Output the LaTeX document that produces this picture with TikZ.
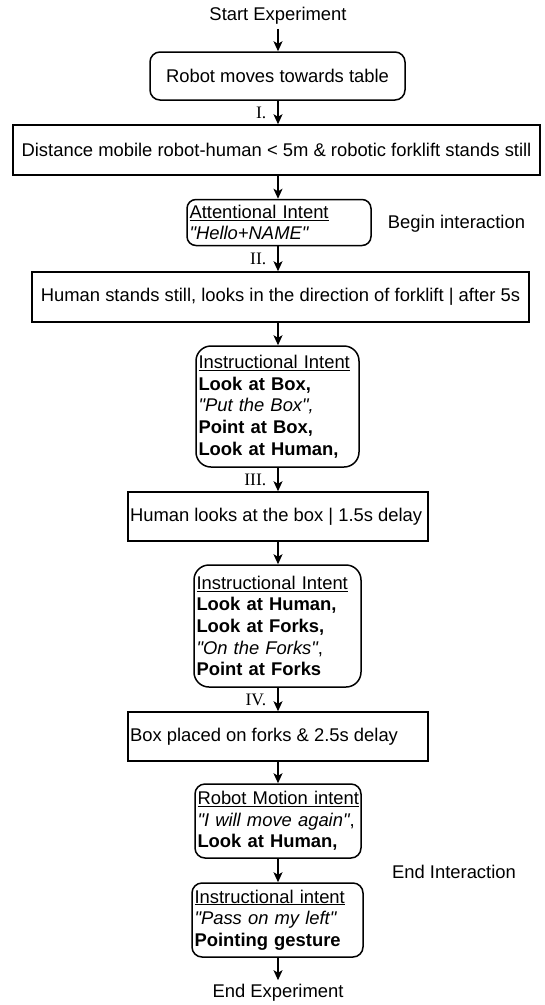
\documentclass[tikz,border=0pt]{standalone}
\usepackage{fontspec}
\setmainfont{Liberation Sans}
\newfontfamily\romanlbl{Liberation Serif}
\usetikzlibrary{arrows.meta}
\newcommand{\dq}{\XeTeXglyph\XeTeXcharglyph"22\relax}
\begin{document}
\begin{tikzpicture}[x=1pt,y=-1pt,
  every node/.style={font=\fontsize{18.4}{21.7}\selectfont},
  flow/.style={line width=1.5pt, -{Stealth[length=10pt,width=9pt,inset=2.5pt]}},
  base/.style={draw, line width=1.5pt, inner sep=0pt},
  intentbox/.style={base, rounded corners=#1, inner xsep=2.5pt, align=left},
  plain/.style={inner sep=4pt},
  lbl/.style={font=\romanlbl\fontsize{17.5}{20}\selectfont, inner sep=0pt, anchor=east, xshift=-11pt}
]
\useasboundingbox (0,0) rectangle (545,1005);
\coordinate (ax) at (278,0);

\node[plain] (start) at (278,16) {Start Experiment};

\node[base, rounded corners=10pt, minimum width=255pt, minimum height=48pt] (b1) at (277.5,76) {Robot moves towards table};

\node[base, minimum width=527pt, minimum height=50pt] (b2) at (276.5,150) {Distance mobile robot-human < 5m \& robotic forklift stands still};

\node[intentbox=9pt, text width=179pt, minimum height=46pt] (b3) at (279,222.5) {\underline{Attentional Intent}\\\textit{\dq Hello+NAME\dq}};

\node[plain] (bi) at (456.5,224) {Begin interaction};

\node[base, minimum width=497pt, minimum height=50pt] (b4) at (280.5,297) {Human stands still, looks in the direction of forklift | after 5s};

\node[intentbox=15pt, text width=158pt, minimum height=121pt] (b5) at (277.5,406.5) {\underline{Instructional Intent}\\\textbf{Look at Box,}\\\textit{\dq Put the Box\dq,}\\\textbf{Point at Box,}\\\textbf{Look at Human,}};

\node[base, minimum width=300pt, minimum height=49pt] (b6) at (278,516.5) {\makebox[296pt][l]{Human looks at the box | 1.5s delay}};

\node[intentbox=15pt, text width=162pt, minimum height=122pt] (b7) at (277.5,626) {\underline{Instructional Intent}\\\textbf{Look at Human,}\\\textbf{Look at Forks,}\\\textit{\dq On the Forks\dq},\\\textbf{Point at Forks}};

\node[base, minimum width=300pt, minimum height=49pt] (b8) at (278,736.5) {\makebox[296pt][l]{Box placed on forks \& 2.5s delay}};

\node[intentbox=10pt, text width=161pt, minimum height=74pt] (b9) at (278,821) {\underline{Robot Motion intent}\\\textit{\dq I will move again\dq},\\\textbf{Look at Human,}};

\node[plain] (ei) at (454,872) {End Interaction};

\node[intentbox=10pt, text width=166pt, minimum height=74pt] (b10) at (277.5,920) {\underline{Instructional intent}\\\textit{\dq Pass on my left\dq}\\\textbf{Pointing gesture}};

\node[plain] (end) at (278,993) {End Experiment};

\draw[flow] (start.south -| ax) -- (b1.north -| ax);
\draw[flow] (b1.south -| ax) -- node[lbl] {I.} (b2.north -| ax);
\draw[flow] (b2.south -| ax) -- (b3.north -| ax);
\draw[flow] (b3.south -| ax) -- node[lbl] {II.} (b4.north -| ax);
\draw[flow] (b4.south -| ax) -- (b5.north -| ax);
\draw[flow] (b5.south -| ax) -- node[lbl] {III.} (b6.north -| ax);
\draw[flow] (b6.south -| ax) -- (b7.north -| ax);
\draw[flow] (b7.south -| ax) -- node[lbl] {IV.} (b8.north -| ax);
\draw[flow] (b8.south -| ax) -- (b9.north -| ax);
\draw[flow] (b9.south -| ax) -- (b10.north -| ax);
\draw[flow] (b10.south -| ax) -- (end.north -| ax);
\end{tikzpicture}
\end{document}
